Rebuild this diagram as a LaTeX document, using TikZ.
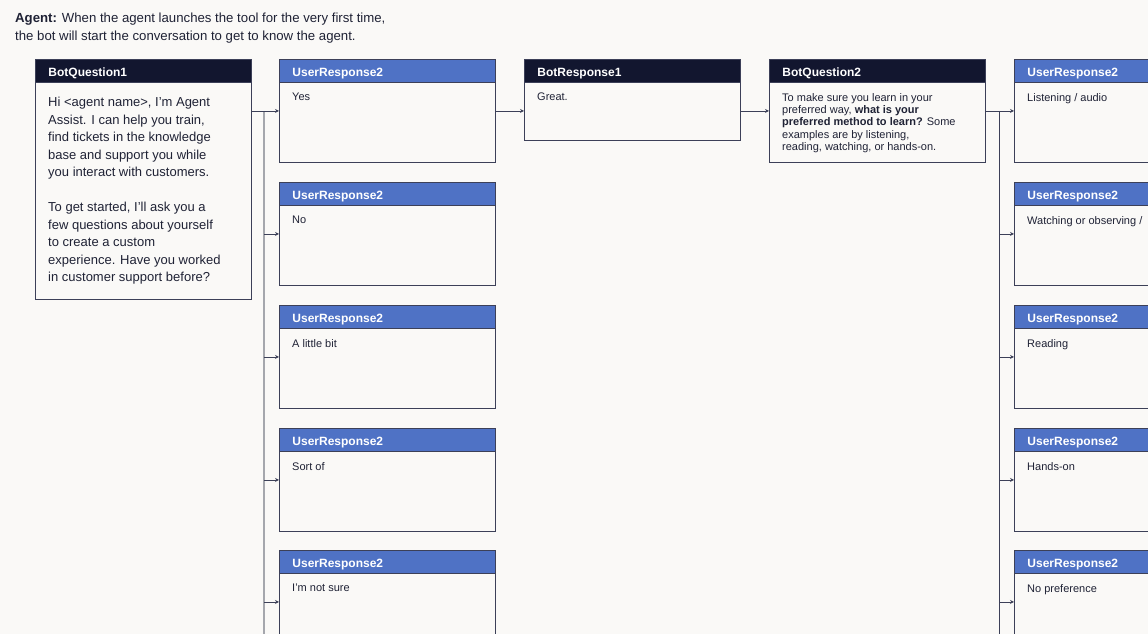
\documentclass[tikz,border=0pt]{standalone}
\usepackage{fontspec}
\setmainfont{Liberation Sans}
\usetikzlibrary{positioning, arrows.meta}
\definecolor{paper}{HTML}{FAF9F7}
\definecolor{navy}{HTML}{12162F}
\definecolor{userblue}{HTML}{4F72C5}
\definecolor{frame}{HTML}{3C4058}
\definecolor{trunkgray}{HTML}{A5A7AD}
\definecolor{ink}{HTML}{1F2235}

\begin{document}
\begin{tikzpicture}[x=1pt, y=-1pt,
    card/.style={draw=frame, line width=0.9pt, anchor=north west,
        minimum width=216pt, inner sep=0pt},
    head/.style={draw=frame, line width=0.9pt, anchor=north west,
        minimum width=216pt, minimum height=23pt, inner xsep=13pt,
        inner ysep=0pt, text width=190pt, text height=11pt, text depth=0pt,
        align=left, text=white, font=\bfseries\fontsize{12}{13}\selectfont},
    bothead/.style={head, fill=navy},
    userhead/.style={head, fill=userblue},
    body/.style={anchor=north west, inner sep=0pt, align=left, text=ink,
        font=\fontsize{11}{12.3}\selectfont},
    link/.style={draw=frame, line width=0.8pt,
        -{Stealth[length=4pt, width=4pt]}},
    trunk/.style={line width=1.6pt, draw=trunkgray}
]
    \useasboundingbox (0,0) rectangle (1148,634);
    \clip (0,0) rectangle (1148,634);
    \fill[paper] (0,0) rectangle (1148,634);

    % intro
    \node[anchor=north west, inner sep=0pt, align=left, text=ink,
        font=\fontsize{13.2}{17.5}\selectfont] (intro) at (15,13)
        {\textbf{Agent:} When the agent launches the tool for the very first time,\\
         the bot will start the conversation to get to know the agent.};

    % first question
    \node[card, minimum height=240pt] (q1) at (35,59) {};
    \node[bothead] (q1h) at (q1.north west) {BotQuestion1};
    \node[body, font=\fontsize{13}{17.5}\selectfont] (q1t)
        at ([shift={(13,38)}]q1.north west)
        {Hi <agent name>, I{\char"27}m Agent\\
         Assist. I can help you train,\\
         find tickets in the knowledge\\
         base and support you while\\
         you interact with customers.\\[17.5pt]
         To get started, I'll ask you a\\
         few questions about yourself\\
         to create a custom\\
         experience. Have you worked\\
         in customer support before?};

    % answers to the first question
    \node[card, minimum height=103pt] (a1) at (279,59) {};
    \node[userhead] (a1h) at (a1.north west) {UserResponse2};
    \node[body] (a1t) at ([shift={(13,34)}]a1.north west) {Yes};
    \node[card, minimum height=103pt] (a2) at (279,182) {};
    \node[userhead] (a2h) at (a2.north west) {UserResponse2};
    \node[body] (a2t) at ([shift={(13,34)}]a2.north west) {No};
    \node[card, minimum height=103pt] (a3) at (279,305) {};
    \node[userhead] (a3h) at (a3.north west) {UserResponse2};
    \node[body] (a3t) at ([shift={(13,34)}]a3.north west) {A little bit};
    \node[card, minimum height=103pt] (a4) at (279,428) {};
    \node[userhead] (a4h) at (a4.north west) {UserResponse2};
    \node[body] (a4t) at ([shift={(13,34)}]a4.north west) {Sort of};
    \node[card, minimum height=103pt] (a5) at (279,550) {};
    \node[userhead] (a5h) at (a5.north west) {UserResponse2};
    \node[body] (a5t) at ([shift={(13,34)}]a5.north west) {I'm not sure};

    % bot reply and second question
    \node[card, minimum height=81pt] (r1) at (524,59) {};
    \node[bothead] (r1h) at (r1.north west) {BotResponse1};
    \node[body] (r1t) at ([shift={(13,34)}]r1.north west) {Great.};
    \node[card, minimum height=103pt] (q2) at (769,59) {};
    \node[bothead] (q2h) at (q2.north west) {BotQuestion2};
    \node[body] (q2t) at ([shift={(13,34)}]q2.north west)
        {To make sure you learn in your\\
         preferred way, \textbf{what is your}\\
         \textbf{preferred method to learn?} Some\\
         examples are by listening,\\
         reading, watching, or hands-on.};

    % answers to the second question
    \node[card, minimum height=103pt] (m1) at (1014,59) {};
    \node[userhead] (m1h) at (m1.north west) {UserResponse2};
    \node[body] (m1t) at ([shift={(13,34)}]m1.north west) {Listening / audio};
    \node[card, minimum height=103pt] (m2) at (1014,182) {};
    \node[userhead] (m2h) at (m2.north west) {UserResponse2};
    \node[body] (m2t) at ([shift={(13,34)}]m2.north west) {Watching or observing /};
    \node[card, minimum height=103pt] (m3) at (1014,305) {};
    \node[userhead] (m3h) at (m3.north west) {UserResponse2};
    \node[body] (m3t) at ([shift={(13,34)}]m3.north west) {Reading};
    \node[card, minimum height=103pt] (m4) at (1014,428) {};
    \node[userhead] (m4h) at (m4.north west) {UserResponse2};
    \node[body] (m4t) at ([shift={(13,34)}]m4.north west) {Hands-on};
    \node[card, minimum height=103pt] (m5) at (1014,550) {};
    \node[userhead] (m5h) at (m5.north west) {UserResponse2};
    \node[body] (m5t) at ([shift={(13,34)}]m5.north west) {No preference};

    % connectors
    \coordinate (j1) at (264,0);
    \coordinate (j2) at (999,0);
    \draw[trunk] (j1 |- a1.west) -- (j1 |- a5.south);
    \draw[link] (q1.east |- a1.west) -- (a1.west);
    \draw[link] (j1 |- a2.west) -- (a2.west);
    \draw[link] (j1 |- a3.west) -- (a3.west);
    \draw[link] (j1 |- a4.west) -- (a4.west);
    \draw[link] (j1 |- a5.west) -- (a5.west);
    \draw[link] (a1.east) -- (r1.west |- a1.east);
    \draw[link] (r1.east |- a1.east) -- (q2.west);
    \draw[draw=frame, line width=0.8pt] (j2 |- m1.west) -- (j2 |- m5.south);
    \draw[link] (q2.east) -- (m1.west);
    \draw[link] (j2 |- m2.west) -- (m2.west);
    \draw[link] (j2 |- m3.west) -- (m3.west);
    \draw[link] (j2 |- m4.west) -- (m4.west);
    \draw[link] (j2 |- m5.west) -- (m5.west);
\end{tikzpicture}
\end{document}
